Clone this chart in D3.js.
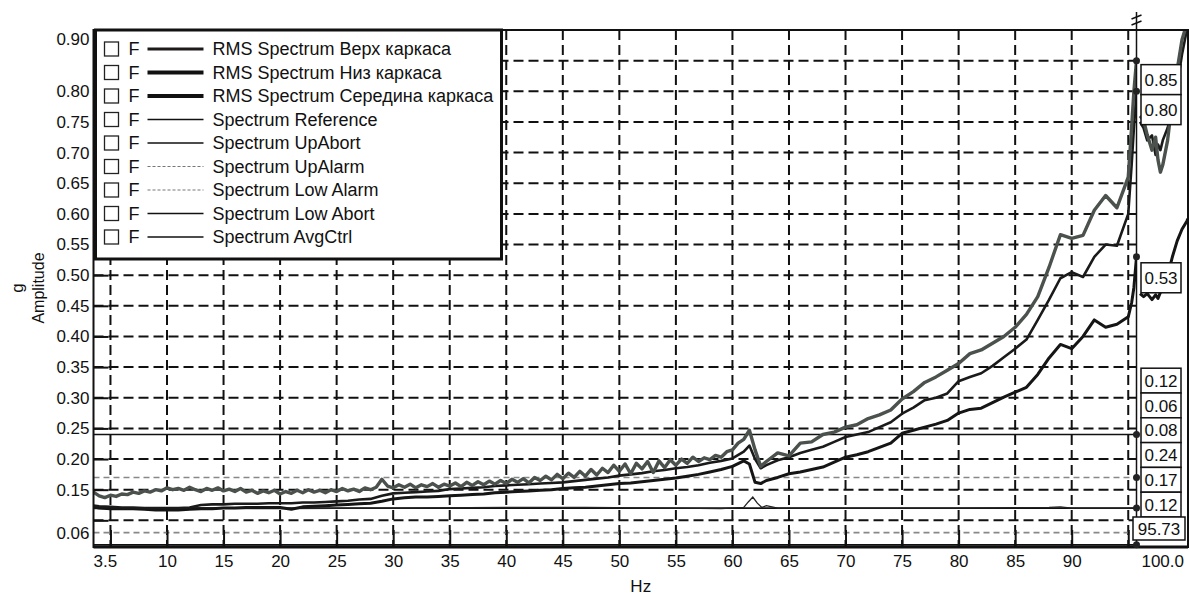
<!DOCTYPE html>
<html>
<head>
<meta charset="utf-8">
<script src="https://cdnjs.cloudflare.com/ajax/libs/d3/7.8.5/d3.min.js"></script>
<style>
  body { margin: 0; background: #fff; }
  svg { font-family: 'Liberation Sans', Arial, sans-serif; }
</style>
</head>
<body>
<div id="chart"></div>
<script>
var freq = [3.5, 4, 5, 6, 7, 8, 9, 10, 11, 12, 13, 14, 15, 16, 17, 18, 19, 20, 21, 22, 23, 24, 25, 26, 27, 28, 29, 30,
  31, 32, 33, 34, 35, 36, 37, 38, 39, 40, 41, 42, 43, 44, 45, 46, 47, 48, 49, 50, 51, 52, 53, 54, 55, 56, 57, 58, 59, 60,
  61, 61.5, 62, 62.5, 63, 64, 65, 66, 67, 68, 69, 70, 71, 72, 73, 74, 75, 76, 77, 78, 79, 80, 81, 82, 83, 84, 85, 86, 87,
  88, 89, 90, 91, 92, 93, 94, 95, 95.3, 95.5, 95.73];

// Верх каркаса is noisier, read at a finer step below 62.5 Hz
var verhFreq = [3.5, 4, 4.5, 5, 5.5, 6, 6.5, 7, 7.5, 8, 8.5, 9, 9.5, 10, 10.5, 11, 11.5, 12, 12.5, 13, 13.5, 14, 14.5,
  15, 15.5, 16, 16.5, 17, 17.5, 18, 18.5, 19, 19.5, 20, 20.5, 21, 21.5, 22, 22.5, 23, 23.5, 24, 24.5, 25, 25.5, 26, 26.5,
  27, 27.5, 28, 28.5, 29, 29.5, 30, 30.5, 31, 31.5, 32, 32.5, 33, 33.5, 34, 34.5, 35, 35.5, 36, 36.5, 37, 37.5, 38, 38.5,
  39, 39.5, 40, 40.5, 41, 41.5, 42, 42.5, 43, 43.5, 44, 44.5, 45, 45.5, 46, 46.5, 47, 47.5, 48, 48.5, 49, 49.5, 50, 50.5,
  51, 51.5, 52, 52.5, 53, 53.5, 54, 54.5, 55, 55.5, 56, 56.5, 57, 57.5, 58, 58.5, 59, 59.5, 60, 60.5, 61, 61.5, 62, 62.5,
  63, 64, 65, 66, 67, 68, 69, 70, 71, 72, 73, 74, 75, 76, 77, 78, 79, 80, 81, 82, 83, 84, 85, 86, 87,
  88, 89, 90, 91, 92, 93, 94, 95, 95.3, 95.5, 95.73];

var verh = [0.146, 0.140, 0.137, 0.141, 0.139, 0.143, 0.142, 0.146, 0.144, 0.148, 0.146, 0.150, 0.148, 0.153, 0.150,
  0.152, 0.149, 0.154, 0.150, 0.147, 0.152, 0.149, 0.153, 0.148, 0.151, 0.147, 0.152, 0.146, 0.149, 0.144, 0.148,
  0.145, 0.149, 0.143, 0.147, 0.144, 0.149, 0.145, 0.150, 0.146, 0.149, 0.145, 0.150, 0.147, 0.152, 0.148, 0.151,
  0.147, 0.153, 0.150, 0.154, 0.167, 0.156, 0.153, 0.158, 0.154, 0.159, 0.153, 0.158, 0.155, 0.160, 0.154, 0.159,
  0.156, 0.161, 0.155, 0.162, 0.157, 0.163, 0.158, 0.164, 0.159, 0.165, 0.160, 0.167, 0.162, 0.168, 0.161, 0.170,
  0.165, 0.172, 0.166, 0.175, 0.168, 0.177, 0.170, 0.180, 0.172, 0.183, 0.174, 0.185, 0.178, 0.190, 0.180, 0.192,
  0.176, 0.193, 0.184, 0.196, 0.178, 0.197, 0.186, 0.199, 0.190, 0.200, 0.193, 0.203, 0.196, 0.202, 0.199, 0.206,
  0.203, 0.212, 0.215, 0.226, 0.232, 0.247, 0.215, 0.188,
  0.196, 0.210, 0.205, 0.226, 0.228, 0.240, 0.244, 0.252, 0.256, 0.266, 0.272, 0.280, 0.298,
  0.310, 0.325, 0.334, 0.345, 0.356, 0.372, 0.378, 0.389, 0.400, 0.415, 0.436, 0.465,
  0.513, 0.566, 0.560, 0.565, 0.606, 0.630, 0.610, 0.660, 0.742, 0.800, 0.850];

var niz = [0.124, 0.123, 0.122, 0.121, 0.121, 0.120, 0.120, 0.120, 0.120, 0.121, 0.125, 0.126, 0.126, 0.127, 0.127, 0.127,
  0.128, 0.128, 0.128, 0.129, 0.129, 0.130, 0.131, 0.132, 0.134, 0.135, 0.140, 0.144,
  0.145, 0.146, 0.147, 0.148, 0.151, 0.152, 0.153, 0.154, 0.156, 0.157, 0.158, 0.159, 0.160, 0.161, 0.162, 0.164, 0.166,
  0.168, 0.170, 0.173, 0.175, 0.177, 0.180, 0.182, 0.185, 0.187, 0.190, 0.194, 0.197, 0.201,
  0.212, 0.222, 0.200, 0.185, 0.190, 0.198, 0.203, 0.210, 0.215, 0.220, 0.228, 0.236, 0.240, 0.244, 0.252, 0.260, 0.274,
  0.284, 0.296, 0.300, 0.307, 0.327, 0.334, 0.340, 0.352, 0.366, 0.380, 0.395, 0.427,
  0.460, 0.495, 0.505, 0.497, 0.530, 0.550, 0.548, 0.600, 0.680, 0.740, 0.800];

var sered = [0.122, 0.120, 0.119, 0.119, 0.119, 0.118, 0.117, 0.117, 0.117, 0.118, 0.119, 0.119, 0.120, 0.120, 0.121, 0.121,
  0.121, 0.121, 0.118, 0.122, 0.123, 0.124, 0.125, 0.126, 0.127, 0.128, 0.131, 0.135,
  0.137, 0.138, 0.138, 0.139, 0.140, 0.141, 0.142, 0.143, 0.145, 0.146, 0.147, 0.148, 0.149, 0.150, 0.152, 0.153, 0.154,
  0.156, 0.158, 0.160, 0.161, 0.163, 0.165, 0.167, 0.169, 0.172, 0.175, 0.179, 0.183, 0.188,
  0.197, 0.192, 0.162, 0.160, 0.165, 0.170, 0.176, 0.179, 0.183, 0.187, 0.195, 0.203, 0.207, 0.212, 0.219, 0.226, 0.242,
  0.247, 0.252, 0.257, 0.263, 0.275, 0.281, 0.283, 0.292, 0.301, 0.309, 0.317, 0.338,
  0.365, 0.387, 0.380, 0.400, 0.427, 0.415, 0.420, 0.432, 0.455, 0.480, 0.530];

// tail after the axis break (96..100 Hz)
var tailFreq = [96, 96.3, 96.6, 97, 97.3, 97.5, 97.7, 97.9, 98.3, 98.7, 99.1, 99.5, 99.9, 100];
var verhTail = [0.760, 0.753, 0.729, 0.704, 0.725, 0.688, 0.668, 0.680, 0.720, 0.786, 0.835, 0.884, 0.910, 0.920];
var nizTail = [0.750, 0.740, 0.720, 0.728, 0.696, 0.713, 0.704, 0.720, 0.740, 0.770, 0.810, 0.860, 0.900, 0.910];
var seredTail = [0.470, 0.465, 0.470, 0.460, 0.468, 0.462, 0.472, 0.480, 0.500, 0.530, 0.556, 0.575, 0.588, 0.592];

var avgFreq = [3.5, 12, 20, 30, 40, 47, 55, 59, 61, 61.4, 61.8, 62.2, 62.6, 63, 63.5, 64, 70, 80, 88, 89, 90, 95.73];
var avgCtrl = [0.119, 0.120, 0.119, 0.120, 0.121, 0.121, 0.120, 0.119, 0.121, 0.130, 0.138, 0.128, 0.121, 0.124, 0.122,
  0.120, 0.120, 0.120, 0.121, 0.122, 0.120, 0.120];

var limitNames = ['Reference', 'UpAbort', 'UpAlarm', 'LowAlarm', 'LowAbort'];
var limitValues = [0.12, 0.24, 0.17, 0.08, 0.06];
var avgCtrlLevel = 0.12;

var cursorHz = 95.73;
var boxOrder = ['Reference', 'LowAbort', 'LowAlarm', 'UpAbort', 'UpAlarm', 'AvgCtrl'];

var xGrid = [5, 10, 15, 20, 25, 30, 35, 40, 45, 50, 55, 60, 65, 70, 75, 80, 85, 90, 95];
var xLabels = [10, 15, 20, 25, 30, 35, 40, 45, 50, 55, 60, 65, 70, 75, 80, 85, 90];
var yGrid = [0.10, 0.15, 0.20, 0.25, 0.30, 0.35, 0.40, 0.45, 0.50, 0.55, 0.60, 0.65, 0.70, 0.75, 0.80, 0.85];
var yLabels = [0.15, 0.20, 0.25, 0.30, 0.35, 0.40, 0.45, 0.50, 0.55, 0.60, 0.65, 0.70, 0.75, 0.80];

var legendNames = ['RMS Spectrum Верх каркаса', 'RMS Spectrum Низ каркаса', 'RMS Spectrum Середина каркаса',
  'Spectrum Reference', 'Spectrum UpAbort', 'Spectrum UpAlarm', 'Spectrum Low Alarm', 'Spectrum Low Abort', 'Spectrum AvgCtrl'];

var W = 1190, H = 595;
var pLeft = 93.5, pRight = 1188, pTop = 30, pBottom = 547;
var breakX = 1136.5;

var x = d3.scaleLinear().domain([3.5, cursorHz]).range([pLeft, breakX]);
var xTail = d3.scaleLinear().domain([96, 100]).range([1140, pRight]);
var y = d3.scaleLinear().domain([0.0565, 0.90]).range([pBottom, pTop]);
var fmt = d3.format('.2f');

var svg = d3.select('#chart').append('svg').attr('width', W).attr('height', H);

svg.append('clipPath').attr('id', 'clipMain').append('rect')
  .attr('x', pLeft).attr('y', pTop).attr('width', breakX - pLeft).attr('height', pBottom - pTop);
svg.append('clipPath').attr('id', 'clipTail').append('rect')
  .attr('x', breakX).attr('y', pTop).attr('width', pRight - breakX).attr('height', pBottom - pTop);

// grid
var grid = svg.append('g').classed('grid', true);
grid.selectAll('.hgrid').data(yGrid).enter().append('line').classed('hgrid', true)
  .attr('x1', pLeft).attr('x2', breakX).attr('y1', function (d) { return y(d); }).attr('y2', function (d) { return y(d); })
  .attr('stroke', '#111').attr('stroke-width', 2).attr('stroke-dasharray', '10,5');
grid.selectAll('.vgrid').data(xGrid).enter().append('line').classed('vgrid', true)
  .attr('y1', pTop).attr('y2', pBottom).attr('x1', function (d) { return x(d); }).attr('x2', function (d) { return x(d); })
  .attr('stroke', '#111').attr('stroke-width', 2).attr('stroke-dasharray', '10,5');

// limit lines
var limitStyle = {
  Reference: { dash: null, color: '#111', w: 1.6 },
  UpAbort: { dash: null, color: '#111', w: 1.6 },
  UpAlarm: { dash: '6,4', color: '#888', w: 1.6 },
  LowAlarm: { dash: '6,4', color: '#888', w: 1.6 },
  LowAbort: { dash: null, color: '#111', w: 1.6 }
};
var limits = svg.append('g').classed('limits', true).attr('clip-path', 'url(#clipMain)');
limitNames.forEach(function (name, i) {
  limits.append('line').attr('x1', pLeft).attr('x2', breakX)
    .attr('y1', y(limitValues[i])).attr('y2', y(limitValues[i]))
    .attr('stroke', limitStyle[name].color).attr('stroke-width', limitStyle[name].w)
    .attr('stroke-dasharray', limitStyle[name].dash);
});

var line = d3.line().x(function (d) { return x(d[0]); }).y(function (d) { return y(d[1]); });
var lineTail = d3.line().x(function (d) { return xTail(d[0]); }).y(function (d) { return y(d[1]); });

limits.append('path').datum(d3.zip(avgFreq, avgCtrl)).attr('d', line)
  .attr('fill', 'none').attr('stroke', '#222').attr('stroke-width', 1.3);

// curves
var series = [
  { f: freq, main: sered, tail: seredTail, color: '#151515', w: 3 },
  { f: freq, main: niz, tail: nizTail, color: '#1a1a1a', w: 2.6 },
  { f: verhFreq, main: verh, tail: verhTail, color: '#4b514c', w: 3.4 }
];
var curves = svg.append('g').classed('curves', true);
series.forEach(function (s) {
  curves.append('path').datum(d3.zip(s.f, s.main)).attr('d', line).attr('clip-path', 'url(#clipMain)')
    .attr('fill', 'none').attr('stroke', s.color).attr('stroke-width', s.w).attr('stroke-linejoin', 'round');
  curves.append('path').datum(d3.zip(tailFreq, s.tail)).attr('d', lineTail).attr('clip-path', 'url(#clipTail)')
    .attr('fill', 'none').attr('stroke', s.color).attr('stroke-width', s.w).attr('stroke-linejoin', 'round');
});

// axes
var yAxis = d3.axisLeft(y).tickValues(yGrid).tickSize(-15).tickPadding(4)
  .tickFormat(function (d) { return yLabels.indexOf(d) >= 0 ? fmt(d) : ''; });
var gy = svg.append('g').attr('transform', 'translate(' + pLeft + ',0)').call(yAxis);
gy.select('.domain').remove();
gy.selectAll('line').attr('stroke', '#111').attr('stroke-width', 2);
gy.selectAll('text').style('font-size', '17px').attr('fill', '#111');

var xAxis = d3.axisBottom(x).tickValues(xGrid).tickSize(-17).tickPadding(8)
  .tickFormat(function (d) { return xLabels.indexOf(d) >= 0 ? d : ''; });
var gx = svg.append('g').attr('transform', 'translate(0,' + pBottom + ')').call(xAxis);
gx.select('.domain').remove();
gx.selectAll('line').attr('stroke', '#111').attr('stroke-width', 2);
gx.selectAll('text').style('font-size', '17px').attr('fill', '#111');

// end labels of the axes
var ends = svg.append('g').style('font-size', '17px').attr('fill', '#111');
ends.append('text').text(fmt(y.domain()[1])).attr('x', pLeft - 4).attr('y', y(y.domain()[1]) + 10).attr('dy', '0.32em').attr('text-anchor', 'end');
ends.append('text').text(fmt(y.domain()[0])).attr('x', pLeft - 4).attr('y', y(y.domain()[0]) - 13).attr('dy', '0.32em').attr('text-anchor', 'end');
ends.append('text').text(x.domain()[0]).attr('x', pLeft).attr('y', pBottom + 8).attr('dy', '0.71em').attr('text-anchor', 'start');
ends.append('text').text(d3.format('.1f')(xTail.domain()[1])).attr('x', pRight - 4).attr('y', pBottom + 8).attr('dy', '0.71em').attr('text-anchor', 'end');

// frame
svg.append('rect').attr('x', pLeft).attr('y', pTop).attr('width', pRight - pLeft).attr('height', pBottom - pTop)
  .attr('fill', 'none').attr('stroke', '#111').attr('stroke-width', 2);
svg.append('line').attr('x1', pLeft).attr('x2', pRight).attr('y1', pBottom).attr('y2', pBottom)
  .attr('stroke', '#111').attr('stroke-width', 3);

// axis titles
svg.append('text').text('Hz').attr('x', (pLeft + pRight) / 2).attr('y', 592).attr('text-anchor', 'middle')
  .style('font-size', '17px').attr('fill', '#111');
svg.append('text').text('g').attr('transform', 'translate(23,288) rotate(-90)').attr('text-anchor', 'middle')
  .style('font-size', '17px').attr('fill', '#111');
svg.append('text').text('Amplitude').attr('transform', 'translate(44,288) rotate(-90)').attr('text-anchor', 'middle')
  .style('font-size', '16px').attr('fill', '#111');

// legend
var legendStyle = [
  { w: 3, dash: null, color: '#1e1a1a' }, { w: 4, dash: null, color: '#111' }, { w: 4, dash: null, color: '#111' },
  { w: 1.4, dash: null, color: '#111' }, { w: 1.4, dash: null, color: '#111' }, { w: 1.2, dash: '3,2', color: '#777' },
  { w: 1.2, dash: '3,2', color: '#777' }, { w: 1.4, dash: null, color: '#111' }, { w: 1.4, dash: null, color: '#111' }
];
var legend = svg.append('g').classed('legend', true).attr('transform', 'translate(95.5,30)');
legend.append('rect').attr('width', 406).attr('height', 229).attr('fill', '#fff').attr('stroke', '#111').attr('stroke-width', 3);
var rows = legend.selectAll('.row').data(legendNames).enter().append('g').classed('row', true)
  .attr('transform', function (d, i) { return 'translate(0,' + (19 + i * 23.5) + ')'; });
rows.append('rect').attr('x', 9).attr('y', -7).attr('width', 14).attr('height', 14)
  .attr('fill', '#fff').attr('stroke', '#222').attr('stroke-width', 1.3);
rows.append('text').text('F').attr('x', 33).attr('dy', '0.36em').style('font-size', '18px').attr('fill', '#111');
rows.append('line').attr('x1', 52).attr('x2', 108)
  .attr('stroke', function (d, i) { return legendStyle[i].color; })
  .attr('stroke-width', function (d, i) { return legendStyle[i].w; })
  .attr('stroke-dasharray', function (d, i) { return legendStyle[i].dash; });
rows.append('text').text(function (d) { return d; }).attr('x', 117).attr('dy', '0.36em')
  .style('font-size', '18px').attr('fill', '#111');

// cursor
var cx = x(cursorHz);
var cursor = svg.append('g').classed('cursor', true);
cursor.append('line').attr('x1', cx).attr('x2', cx).attr('y1', 12).attr('y2', pBottom).attr('stroke', '#111').attr('stroke-width', 1.5);
cursor.append('path').attr('d', 'M' + (cx - 5) + ',19 L' + (cx + 5) + ',15 M' + (cx - 5) + ',25 L' + (cx + 5) + ',21')
  .attr('stroke', '#111').attr('stroke-width', 1.4).attr('fill', 'none');

var dotValues = [verh[verh.length - 1], niz[niz.length - 1], sered[sered.length - 1]].concat(limitValues);
cursor.selectAll('circle').data(dotValues).enter().append('circle')
  .attr('cx', cx).attr('cy', function (d) { return y(d); }).attr('r', 3.5).attr('fill', '#222');

function valueBox(label, bx, by, bw, bh) {
  var g = cursor.append('g').attr('transform', 'translate(' + bx + ',' + by + ')');
  g.append('rect').attr('width', bw).attr('height', bh).attr('fill', '#fff').attr('stroke', '#111').attr('stroke-width', 1.5);
  g.append('text').text(label).attr('x', bw / 2).attr('y', bh / 2).attr('dy', '0.36em')
    .attr('text-anchor', 'middle').style('font-size', '17px').attr('fill', '#111');
}

valueBox(fmt(verh[verh.length - 1]), 1141, y(verh[verh.length - 1]) + 4, 40, 30);
valueBox(fmt(niz[niz.length - 1]), 1141, y(verh[verh.length - 1]) + 34, 40, 30);
valueBox(fmt(sered[sered.length - 1]), 1141, y(sered[sered.length - 1]) + 6, 40, 30);

var boxH = 24.8, stackBottom = 517;
boxOrder.forEach(function (name, i) {
  var v = name === 'AvgCtrl' ? avgCtrlLevel : limitValues[limitNames.indexOf(name)];
  valueBox(fmt(v), 1141, stackBottom - (boxOrder.length - i) * boxH, 40, boxH);
});
valueBox(d3.format('.2f')(cursorHz), 1133, stackBottom, 52, 23);
</script>
</body>
</html>
